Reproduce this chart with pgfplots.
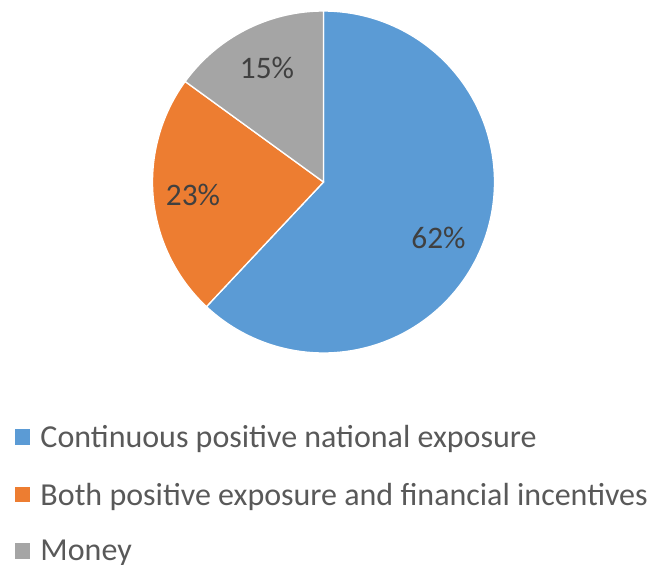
\documentclass[border=0pt]{standalone}
\usepackage{pgfplots}
\pgfplotsset{compat=1.18}
\usepackage{fontspec}
\setmainfont{Carlito}
\definecolor{cblue}{HTML}{5B9BD5}
\definecolor{corange}{HTML}{ED7D31}
\definecolor{cgrey}{HTML}{A5A5A5}
\definecolor{ltext}{HTML}{595959}
\definecolor{dtext}{HTML}{404040}
% slice values (percent)
\def\va{62}\def\vb{23}\def\vc{15}
\begin{document}
\begin{tikzpicture}
\pgfmathsetmacro\aA{90}
\pgfmathsetmacro\aB{90-3.6*\va}
\pgfmathsetmacro\aC{\aB-3.6*\vb}
\pgfmathsetmacro\aD{\aC-3.6*\vc}
\begin{axis}[
  scale only axis, width=487.5pt, height=422.25pt,
  xmin=0, xmax=650, ymin=0, ymax=563,
  hide axis, clip=false,
  legend style={at={(axis cs:13.5,139)}, anchor=north west, draw=none, fill=none,
    font=\fontsize{24}{28}\selectfont, text=ltext, inner sep=0pt, outer sep=0pt,
    row sep=23pt, legend cell align=left,
    nodes={inner sep=1pt},
    /tikz/every odd column/.append style={column sep=5.5pt}},
  legend image code/.code={\fill[#1] (0pt,-5.9pt) rectangle (12.75pt,6.85pt);},
]
\path (axis cs:0,0) rectangle (axis cs:650,563);
\addplot[draw=white, line width=1pt, fill=cblue, domain=\aA:\aB, samples=120]
  ({323.5+171*cos(x)},{381+171*sin(x)}) -- (axis cs:323.5,381) -- cycle;
\addlegendentry{Continuous positive national exposure}
\addplot[draw=white, line width=1pt, fill=corange, domain=\aB:\aC, samples=60]
  ({323.5+171*cos(x)},{381+171*sin(x)}) -- (axis cs:323.5,381) -- cycle;
\addlegendentry{Both positive exposure and financial incentives}
\addplot[draw=white, line width=1pt, fill=cgrey, domain=\aC:\aD, samples=40]
  ({323.5+171*cos(x)},{381+171*sin(x)}) -- (axis cs:323.5,381) -- cycle;
\addlegendentry{Money}
\node[text=dtext, font=\fontsize{23.5}{27}\selectfont] at (axis cs:438.5,325) {\va\%};
\node[text=dtext, font=\fontsize{23.5}{27}\selectfont] at (axis cs:193,368) {\vb\%};
\node[text=dtext, font=\fontsize{23.5}{27}\selectfont] at (axis cs:267,495) {\vc\%};
\end{axis}
\end{tikzpicture}
\end{document}
